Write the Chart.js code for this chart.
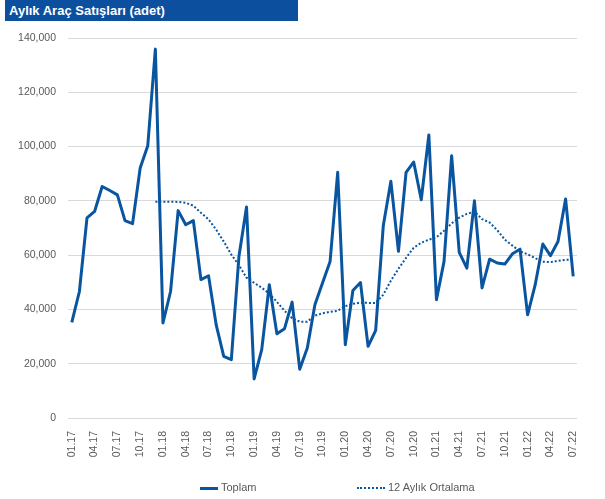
<!DOCTYPE html>
<html>
<head>
<meta charset="utf-8">
<script src="https://cdn.jsdelivr.net/npm/chart.js@4"></script>
<style>
  body { margin: 0; background: #fff; }
  #wrap { position: relative; width: 605px; height: 499px; font-family: "Liberation Sans", Arial, sans-serif; }
  #title { position: absolute; left: 5px; top: 0; width: 293px; height: 21px; background: #0c4f9e;
           color: #fff; font-weight: bold; font-size: 13px; line-height: 21px; padding-left: 4px; box-sizing: border-box; }
  .leg { position: absolute; top: 480px; font-size: 11px; color: #595959; line-height: 14px; }
  .leg i { display: inline-block; vertical-align: middle; margin-right: 3px; }
</style>
</head>
<body>
<div id="wrap">
  <canvas id="c" width="605" height="499"></canvas>
  <div id="title">Aylık Araç Satışları (adet)</div>
  <div class="leg" style="left:200px"><i style="width:18px;border-top:3px solid #0a55a0"></i>Toplam</div>
  <div class="leg" style="left:357px"><i style="width:28px;border-top:2px dotted #0a55a0"></i>12 Aylık Ortalama</div>
</div>
<script>
// aylar
const months = [
  "01.17","02.17","03.17","04.17","05.17","06.17","07.17","08.17","09.17","10.17","11.17","12.17",
  "01.18","02.18","03.18","04.18","05.18","06.18","07.18","08.18","09.18","10.18","11.18","12.18",
  "01.19","02.19","03.19","04.19","05.19","06.19","07.19","08.19","09.19","10.19","11.19","12.19",
  "01.20","02.20","03.20","04.20","05.20","06.20","07.20","08.20","09.20","10.20","11.20","12.20",
  "01.21","02.21","03.21","04.21","05.21","06.21","07.21","08.21","09.21","10.21","11.21","12.21",
  "01.22","02.22","03.22","04.22","05.22","06.22","07.22"
];

// aylık satış (adet)
const toplam = [
  35200, 46600, 73700, 76100, 85300, 83800, 82200, 72700, 71600, 92100, 100300, 135900,
  35000, 46600, 76400, 71200, 72700, 51000, 52400, 34400, 22700, 21500, 59500, 77700,
  14400, 25200, 49100, 31000, 32900, 42700, 18000, 25800, 41700, 49700, 57700, 90500,
  27000, 47000, 49900, 26400, 32300, 70800, 87200, 61400, 90500, 94300, 80400, 104300,
  43600, 57700, 96600, 61000, 55200, 80000, 47900, 58500, 57100, 56700, 60500, 62200,
  38000, 49100, 64100, 59800, 65000, 80700, 52200
];

// 12 aylık ortalama (ilk 11 ay yok)
const ortalama = [
  null, null, null, null, null, null, null, null, null, null, null, 79700,
  79700, 79700, 79600, 79300, 78200, 75600, 73200, 69400, 65000, 60200, 56300, 51700,
  49800, 48000, 45800, 42800, 39500, 36800, 35500, 35500, 37700, 38600, 39100, 39500,
  41200, 42100, 42500, 42400, 42400, 45400, 50600, 55000, 59000, 62700, 64600, 65700,
  66600, 69000, 71700, 73800, 75200, 76100, 73300, 72000, 69200, 65700, 63500, 61400,
  60300, 58900, 57600, 57400, 57900, 58300, 58300
];

const yTicks = [0, 20000, 40000, 60000, 80000, 100000, 120000, 140000];

const blue = "#0a55a0";
const gray = "#595959";

new Chart(document.getElementById("c"), {
  type: "line",
  data: {
    labels: months,
    datasets: [
      { label: "Toplam", data: toplam, borderColor: blue, borderWidth: 3, borderJoinStyle: "round",
        pointRadius: 0, tension: 0 },
      { label: "12 Aylık Ortalama", data: ortalama, borderColor: blue, borderWidth: 2, borderDash: [2, 2],
        pointRadius: 0, tension: 0 }
    ]
  },
  options: {
    responsive: false,
    animation: false,
    layout: { padding: { top: 38, right: 28, left: 0, bottom: 0 } },
    plugins: { legend: { display: false }, tooltip: { enabled: false } },
    scales: {
      x: {
        offset: true,
        grid: { display: false },
        border: { display: false },
        ticks: {
          autoSkip: false, maxRotation: 90, minRotation: 90, padding: 5,
          color: gray, font: { family: "Liberation Sans", size: 10.5 },
          callback: (v, i) => (i % 3 === 0 ? months[i] : "")
        },
        afterFit: s => { s.height = 81; }
      },
      y: {
        min: 0, max: 140000,
        afterBuildTicks: s => { s.ticks = yTicks.map(v => ({ value: v })); },
        grid: { color: "#d9d9d9", drawTicks: false },
        border: { display: false },
        ticks: {
          padding: 12, color: gray, font: { family: "Liberation Sans", size: 10.5 },
          callback: v => v.toLocaleString("en-US")
        },
        afterFit: s => { s.width = 68; }
      }
    }
  }
});
</script>
</body>
</html>
